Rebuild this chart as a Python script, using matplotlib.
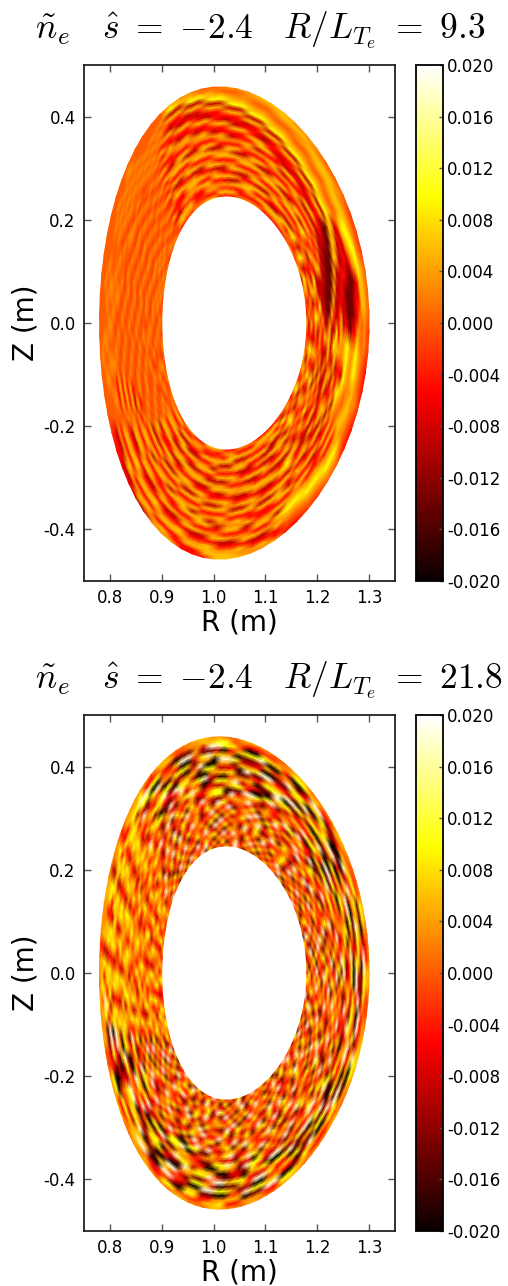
import numpy as np
import matplotlib
matplotlib.use('Agg')
import matplotlib.pyplot as plt

plt.rcParams['mathtext.fontset'] = 'cm'
plt.rcParams['axes.unicode_minus'] = False

W, H = 508.0, 1286.0

# flux surface shape
R_axis = 1.04
a_inner, a_outer = 0.14, 0.26
kappa = 1.76
delta = 0.11

r_ticks = [0.8, 0.9, 1.0, 1.1, 1.2, 1.3]
z_ticks = [-0.4, -0.2, 0.0, 0.2, 0.4]
cb_ticks = [-0.020, -0.016, -0.012, -0.008, -0.004, 0.000, 0.004, 0.008, 0.012, 0.016, 0.020]
titles = [r'$\tilde{n}_e\ \ \ \hat{s}\ =\ {-}2.4\ \ \ R/L_{T_e}\ =\ 9.3$',
          r'$\tilde{n}_e\ \ \ \hat{s}\ =\ {-}2.4\ \ \ R/L_{T_e}\ =\ 21.8$']

# density levels (1e-3) for the digits used in the maps below
levels = [-20, -14, -9, -5, -2, 0, 3, 6, 10, 18]

# fields estimated by eye. rows go inner to outer edge, characters go round
# from the outboard midplane, 5 degrees each for the low case
ne_low = [
    "735627465 333366663 337766443 565465645 546546565 446633777 336663333 563746754",
    "263784635 666633337 773344667 456546564 655465456 773366443 663337777 264837263",
    "746352846 377776633 446633777 545564656 465564654 337766334 377776663 836274683",
    "352763728 772233777 666633442 364656465 546456546 662233777 772233377 372638372",
    "684723646 223377762 233776663 756465546 654645465 777722336 226677722 684726374",
    "273684263 667722336 777336633 345546654 465546456 333777662 667733226 273648263",
    "648223746 333667722 336677733 664654465 556465645 662233777 333226677 746372746",
    "362227638 777333667 722336677 456465546 645654564 777662233 777333226 263847263",
    "722227364 266777333 667722336 345546654 456465456 233777662 226677733 637263722",
    "621122637 772266777 333667722 764654465 645546645 733226777 663322667 726336262",
    "771112263 333772266 777333667 356465546 564654564 667733322 777663322 263772227",
    "227111226 666333772 266777333 645546654 456465456 223667733 326677763 772223763",
    "823711122 227666333 772266777 364654465 645546645 777226677 333226677 832736272",
    "782271123 773327666 333772266 756465546 564654536 333777226 677333226 736277327",
    "733227112 323773327 666333772 345546654 456465473 667333777 226677333 277327372",
    "677322711 332323773 327666333 764654465 645546326 772667333 777226677 732772733",
    "662232771 773232377 333276663 356465546 564654774 337772667 333777226 373327273",
    "773223277 227733323 773332766 645546654 456465336 663337772 667333777 267733782",
    "882113227 882277323 327733327 365464655 645546775 776633377 726673337 733277678",
    "771112332 778822773 232377333 756555465 564654336 227766333 772667333 377333567",
    "663111223 667788227 733323773 365656546 565465775 333227766 333772667 663377656",
    "773221367 556677882 277332327 656565655 656556335 667333227 766333772 776633766",
    "887332678 665566778 822773232 565656565 565656565 777667333 227766337 887766776",
    "776633788 776655667 788227733 656565655 565656565 333777667 333227766 778877677",
    "665577887 777766556 677882277 565656565 656565655 667333777 667333227 667788666",
    "556677766 667776665 566778822 655565655 565565655 227667333 777667333 556677556",
    "445566655 566667776 665566778 555565555 555556555 332276673 337776673 445566445",
    "334455544 455566677 766655667 555555555 555555555 433322667 333777667 334455334",
]

# high case, 30 degrees per group of nine
ne_high = [
    "372581627 493718264 837261594 736281947 382716495 574365736 685347586 472816395 728163947 362815947 281739462 817263948",
    "814639271 738251946 261847395 182739546 917463825 465738257 374258676 839271546 194738261 815926374 736184925 493728156",
    "265917384 162847593 738295164 647158392 264918375 286547365 758364857 217465938 682519473 274691835 149582736 726159384",
    "738162945 829364175 164738259 392874516 738251649 657486375 467385264 683928174 351746829 836172495 827316549 183947265",
    "491827365 374619285 829163746 716249583 492836175 378257486 285473678 529174368 947263815 192748365 364925817 574281639",
    "826395714 916275384 437582916 284917365 165728394 765384257 376585746 173846295 216485937 538271946 718243695 926173845",
    "153749268 283749165 692184735 639182754 827394516 486573846 258347685 846291753 739182546 764915382 295637184 381649275",
    "692817435 741926358 175396284 271845369 349165728 257364875 364768273 192738564 365927184 219386745 483916275 729385146",
    "378261954 369285147 528174963 846293175 271849356 738465367 586374257 637184295 813746925 648172539 172684953 164827593",
    "926475183 817346952 263819574 193758264 683927145 365286475 475867384 291763548 254817693 395264817 839265147 825916347",
    "184926375 125784396 749261835 428916375 925174368 586473258 638425763 748392165 961438527 817392654 264189375 379482165",
    "573182694 693281745 138475296 765124938 184362975 743658467 756367485 162859347 375281946 246817953 791843652 618237549",
    "829647315 245719386 892361475 391887216 738194526 376284756 463758276 835174692 842716395 932675184 358216974 274169385",
    "361825947 886110339 176342899 110886337 245961738 684765378 675276583 412988736 159300881 174892365 926473185 839152746",
    "748193265 339877102 445198003 886223179 861372459 567238476 387658764 987310226 673889014 665231798 183759426 162748395",
    "215987364 671103889 772660134 297881046 274918863 785476287 468578275 134776892 201886743 118897230 746291538 587391624",
    "936214875 108996723 338891107 664012987 593110782 468277586 756285768 560098332 889117664 300776198 832514769 928165743",
    "487335186 882200977 611098834 118776002 889336147 277358267 587376277 881244790 013669882 776003218 419976235 379822014",
    "123889710 467781100 289977611 903228817 660198873 386577388 273587368 109866335 778022197 889411306 780012899 641187639",
    "887001368 993006678 810233998 771660094 012887366 678286367 367278386 667229901 188730066 114997883 236889110 890033768",
    "663998211 017739984 497711003 228990661 788104529 377368287 878367278 991038876 226009931 887201174 998330167 112877994",
    "109227889 669201077 008894472 110677983 003669812 788387268 287387827 033226688 901177443 009988612 004477811 889110328",
    "992110367 784490028 773166009 887302116 997450088 277838783 378278383 998104422 776009931 771100449 887733029 003996771",
    "336889920 118877311 992003778 004889926 110238899 883387288 377283798 112300887 799224410 883366770 119900287 668810093",
    "664477336 884455663 377886644 335588776 644775338 777376277 667377857 664488335 776633885 544778336 663388774 335566887",
    "765567665 676556776 665776556 677556677 665677566 666466667 666466576 675566776 566776657 766577665 766567756 667756677",
]


def surface_mesh(rows):
    # each digit is turned into its level, the mesh does the smoothing
    values = np.array([[levels[int(c)] for c in row.replace(' ', '')] for row in rows]) * 1e-3
    n_rad, n_pol = values.shape
    # close the ring so the last sector joins the first
    field = np.column_stack([values, values[:, 0]])
    theta = np.linspace(0.0, 2.0 * np.pi, n_pol + 1)
    a = np.linspace(a_inner, a_outer, n_rad)
    a_grid, theta_grid = np.meshgrid(a, theta, indexing='ij')
    # the streaks lean over going out
    lean = 0.3 * (a_grid - a_inner) / (a_outer - a_inner)
    t = theta_grid - lean
    R = R_axis + a_grid * np.cos(t + delta * np.sin(t))
    Z = kappa * a_grid * np.sin(t)
    return R, Z, field


def draw_panel(top_px, rows, title):
    bottom = 1.0 - (top_px + 516.0) / H
    ax = fig.add_axes([84.0 / W, bottom, 311.0 / W, 516.0 / H])
    cax = fig.add_axes([416.0 / W, bottom, 27.0 / W, 516.0 / H])

    R, Z, field = surface_mesh(rows)
    mesh = ax.pcolormesh(R, Z, field, cmap='hot', vmin=-0.02, vmax=0.02, shading='gouraud')
    ax.set_xlim(0.75, 1.35)
    ax.set_ylim(-0.5, 0.5)
    ax.set_xticks(r_ticks)
    ax.set_yticks(z_ticks)
    ax.set_xticklabels(['%.1f' % v for v in r_ticks])
    ax.set_yticklabels(['%.1f' % v for v in z_ticks])
    ax.tick_params(direction='in', top=True, right=True, length=5, width=1, color='#555555',
                   labelsize=12, pad=6)
    ax.set_xlabel('R (m)', fontsize=20, labelpad=1)
    ax.set_ylabel('Z (m)', fontsize=20, labelpad=3)
    for s in ax.spines.values():
        s.set_linewidth(1.3)
        s.set_color('#222222')

    cb = fig.colorbar(mesh, cax=cax)
    cb.set_ticks(cb_ticks)
    cb.set_ticklabels(['%.3f' % v for v in cb_ticks])
    cb.ax.tick_params(direction='in', length=3, width=1, color='#555555', labelsize=12, pad=3)
    cb.outline.set_linewidth(1.3)

    fig.text(35.0 / W, 1.0 - (top_px - 35.0) / H, title, fontsize=25.5, ha='left', va='center')


fig = plt.figure(figsize=(W / 100.0, H / 100.0), dpi=100, facecolor='w')
draw_panel(65.0, ne_low, titles[0])
draw_panel(715.0, ne_high, titles[1])
plt.savefig('out.png', dpi=100)
